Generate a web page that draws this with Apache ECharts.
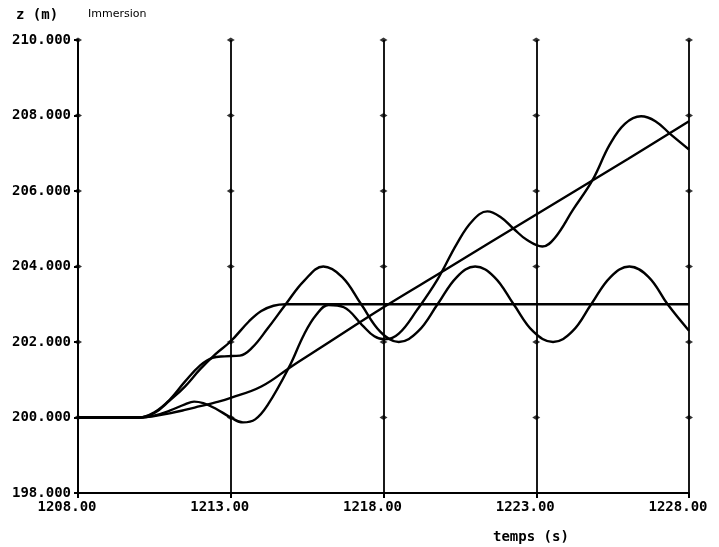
<!DOCTYPE html>
<html>
<head>
<meta charset="utf-8">
<script src="https://cdn.jsdelivr.net/npm/echarts@6/dist/echarts.min.js"></script>
<style>
  html, body { margin: 0; padding: 0; background: #fff; }
  #chart { width: 719px; height: 547px; }
</style>
</head>
<body>
<div id="chart"></div>
<script>
// Axis ticks
const xTickValues = [1208, 1213, 1218, 1223, 1228];
const yTickValues = [198, 200, 202, 204, 206, 208, 210];

// Immersion law: ramp from 200 m to a 203 m plateau
const timeA = [1208, 1210, 1210.5, 1211, 1211.5, 1212, 1212.5, 1213, 1213.6, 1214, 1214.4, 1214.8, 1216, 1220, 1224, 1228];
const zA = [200, 200, 200.12, 200.45, 200.82, 201.28, 201.68, 202.02, 202.55, 202.82, 202.96, 203, 203, 203, 203, 203];

// Immersion law: constant-rate ramp
const timeB = [1208, 1210, 1210.5, 1211, 1211.5, 1212, 1212.5, 1213, 1214, 1215, 1216, 1218, 1220, 1223, 1226, 1228];
const zB = [200, 200, 200.04, 200.11, 200.2, 200.3, 200.4, 200.52, 200.82, 201.36, 201.88, 202.92, 203.9, 205.38, 206.85, 207.85];

// Response following the plateau law
const timeC = [1208, 1210, 1210.5, 1211, 1211.5, 1212, 1212.4, 1212.8, 1213.3, 1213.7, 1214.2, 1214.8, 1215.4, 1216.03, 1216.65, 1217.27, 1217.9, 1218.5, 1219.13, 1219.77, 1220.4, 1221.0, 1221.63, 1222.26, 1222.9, 1223.55, 1224.18, 1224.8, 1225.43, 1226.05, 1226.68, 1227.3, 1228];
const zC = [200, 200, 200.14, 200.47, 200.95, 201.38, 201.58, 201.62, 201.64, 201.85, 202.35, 203.0, 203.62, 204.0, 203.72, 203.0, 202.27, 202.0, 202.28, 203.0, 203.72, 204.0, 203.72, 203.0, 202.28, 202.0, 202.28, 203.0, 203.72, 204.0, 203.72, 203.0, 202.3];

// Response following the ramp law
const timeD = [1208, 1210, 1210.5, 1211, 1211.5, 1211.8, 1212.1, 1212.5, 1213, 1213.4, 1213.8, 1214.2, 1214.9, 1215.4, 1215.8, 1216.2, 1216.7, 1217.3, 1217.7, 1218.05, 1218.5, 1219.1, 1219.77, 1220.4, 1220.9, 1221.4, 1221.85, 1222.26, 1222.7, 1223.2, 1223.6, 1224.2, 1224.85, 1225.4, 1225.9, 1226.43, 1226.9, 1227.4, 1228];
const zD = [200, 200, 200.05, 200.18, 200.35, 200.42, 200.38, 200.24, 200.0, 199.87, 199.95, 200.32, 201.32, 202.2, 202.72, 202.98, 202.92, 202.45, 202.15, 202.07, 202.22, 202.85, 203.66, 204.6, 205.2, 205.46, 205.3, 205.0, 204.7, 204.53, 204.75, 205.5, 206.3, 207.22, 207.78, 207.98, 207.85, 207.5, 207.1];

const T0 = xTickValues[0];
const monoFont = "'DejaVu Sans Mono', 'Liberation Mono', monospace";

// x values are plotted as seconds since T0 so ticks fall on the listed values
function pairs(times, values) {
  return times.map((t, i) => [t - T0, values[i]]);
}

// small cross marks where each vertical line meets a y level
const markPoints = [];
xTickValues.forEach(t => {
  yTickValues.slice(1).forEach(z => markPoints.push([t - T0, z]));
});

const lineStyle = { color: '#000', width: 2.4 };
function curve(name, times, values) {
  return {
    name, type: 'line', data: pairs(times, values),
    smooth: 0.4, showSymbol: false, symbol: 'none',
    lineStyle, z: 3
  };
}

const chart = echarts.init(document.getElementById('chart'), null, { renderer: 'canvas' });
chart.setOption({
  animation: false,
  backgroundColor: '#fff',
  grid: { left: 78, right: 30, top: 40, bottom: 54 },
  xAxis: {
    type: 'value',
    min: 0,
    max: xTickValues[xTickValues.length - 1] - T0,
    interval: xTickValues[1] - xTickValues[0],
    axisLine: { show: true, lineStyle: { color: '#000', width: 2 } },
    axisTick: { show: true, length: 5, lineStyle: { color: '#000', width: 2 } },
    splitLine: { show: true, lineStyle: { color: '#000', width: 1.8 } },
    axisLabel: {
      formatter: v => (v + T0).toFixed(2),
      color: '#000', fontFamily: monoFont, fontWeight: 'bold', fontSize: 14,
      margin: 7, padding: [0, 22, 0, 0]
    }
  },
  yAxis: {
    type: 'value',
    min: yTickValues[0],
    max: yTickValues[yTickValues.length - 1],
    interval: yTickValues[1] - yTickValues[0],
    axisLine: { show: true, lineStyle: { color: '#000', width: 2 } },
    axisTick: { show: true, length: 4, lineStyle: { color: '#000', width: 2 } },
    splitLine: { show: false },
    axisLabel: {
      formatter: v => v.toFixed(3),
      color: '#000', fontFamily: monoFont, fontWeight: 'bold', fontSize: 14,
      margin: 7
    }
  },
  series: [
    {
      name: 'marks', type: 'scatter', data: markPoints,
      symbol: 'diamond', symbolSize: [8, 5], clip: false,
      itemStyle: { color: '#000' }, z: 2, silent: true
    },
    curve('plateau', timeA, zA),
    curve('rampe', timeB, zB),
    curve('réponse plateau', timeC, zC),
    curve('réponse rampe', timeD, zD)
  ],
  graphic: [
    { type: 'text', left: 16, top: 8,
      style: { text: 'z (m)', font: "bold 14px 'DejaVu Sans Mono', monospace", fill: '#000' } },
    { type: 'text', left: 88, top: 9,
      style: { text: 'Immersion', font: "11px 'DejaVu Sans', sans-serif", fill: '#000' } },
    { type: 'text', left: 493, top: 530,
      style: { text: 'temps (s)', font: "bold 14px 'DejaVu Sans Mono', monospace", fill: '#000' } }
  ]
});
</script>
</body>
</html>
